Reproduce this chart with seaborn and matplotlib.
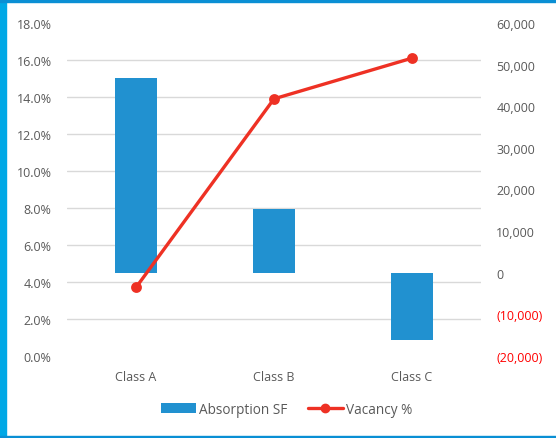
import matplotlib
matplotlib.use("Agg")
import matplotlib.pyplot as plt
import seaborn as sns
from matplotlib.patches import Patch, Rectangle
from matplotlib.lines import Line2D
from matplotlib.ticker import FuncFormatter, MultipleLocator, FixedLocator

# data
classes = ["Class A", "Class B", "Class C"]
absorption_sf = [46800, 15300, -16100]
vacancy_pct = [3.7, 13.9, 16.1]

bar_color = "#2191D0"
line_color = "#EE3124"
text_color = "#595959"

sns.set_style("white")
plt.rcParams["font.family"] = ["Open Sans", "DejaVu Sans"]
plt.rcParams["font.size"] = 9

fig = plt.figure(figsize=(5.56, 4.39), dpi=100)
ax1 = fig.add_axes([0.1205, 0.187, 0.7446, 0.7583])
ax2 = ax1.twinx()

# bars on the right axis
sns.barplot(x=classes, y=absorption_sf, ax=ax2, color=bar_color, width=0.31,
            saturation=1, edgecolor="none")
# line on the left axis
sns.pointplot(x=classes, y=vacancy_pct, ax=ax1, color=line_color,
              markers="o", markersize=6, linewidth=2.4)

# line above the bars
ax1.set_zorder(ax2.get_zorder() + 1)
ax1.patch.set_visible(False)

ax1.set_xlim(-0.5, 2.5)
ax1.set_ylim(0, 18)
ax2.set_ylim(-20000, 60000)
ax1.yaxis.set_major_locator(MultipleLocator(2))
ax2.yaxis.set_major_locator(MultipleLocator(10000))
ax1.yaxis.set_major_formatter(FuncFormatter(lambda v, p: f"{v:.1f}%"))


def sf_fmt(v, p):
    if v < 0:
        return f"({abs(v):,.0f})"
    return f"{v:,.0f}"


ax2.yaxis.set_major_formatter(FuncFormatter(sf_fmt))

# gridlines follow the left axis but sit under the bars
grid_pos = [-20000 + k * 80000 / 9 for k in range(10)]
ax2.yaxis.set_minor_locator(FixedLocator(grid_pos))
ax2.set_axisbelow(True)
ax2.grid(False)
ax2.grid(which="minor", axis="y", color="#D9D9D9", linewidth=1.0)
ax1.grid(False)

for ax in (ax1, ax2):
    for s in ax.spines.values():
        s.set_visible(False)
    ax.set_xlabel("")
    ax.set_ylabel("")
ax1.tick_params(axis="y", length=0, pad=11, colors=text_color)
ax1.tick_params(axis="x", length=0, pad=10, colors=text_color)
ax2.tick_params(axis="y", which="both", length=0, pad=11, colors=text_color)
fig.canvas.draw()
for lbl in ax2.get_yticklabels():
    if lbl.get_text().startswith("("):
        lbl.set_color("#FF0000")

handles = [Patch(facecolor=bar_color, edgecolor="none"),
           Line2D([], [], color=line_color, linewidth=2.4, marker="o", markersize=6)]
fig.legend(handles, ["Absorption SF", "Vacancy %"], loc="center",
           bbox_to_anchor=(0.515, 0.066), ncol=2, frameon=False,
           handlelength=2.6, handletextpad=0.2, columnspacing=1.5,
           labelcolor=text_color, fontsize=9.8)

# blue frame edges
fig.patches.append(Rectangle((0, 0), 0.011, 1, transform=fig.transFigure,
                             color="#00A8E6", zorder=0))
fig.patches.append(Rectangle((0, 0.993), 1, 0.007, transform=fig.transFigure,
                             color="#0A8FD4", zorder=0))
fig.patches.append(Rectangle((0, 0), 1, 0.005, transform=fig.transFigure,
                             color="#0A8FD4", zorder=0))

fig.savefig("out.png", dpi=100)
